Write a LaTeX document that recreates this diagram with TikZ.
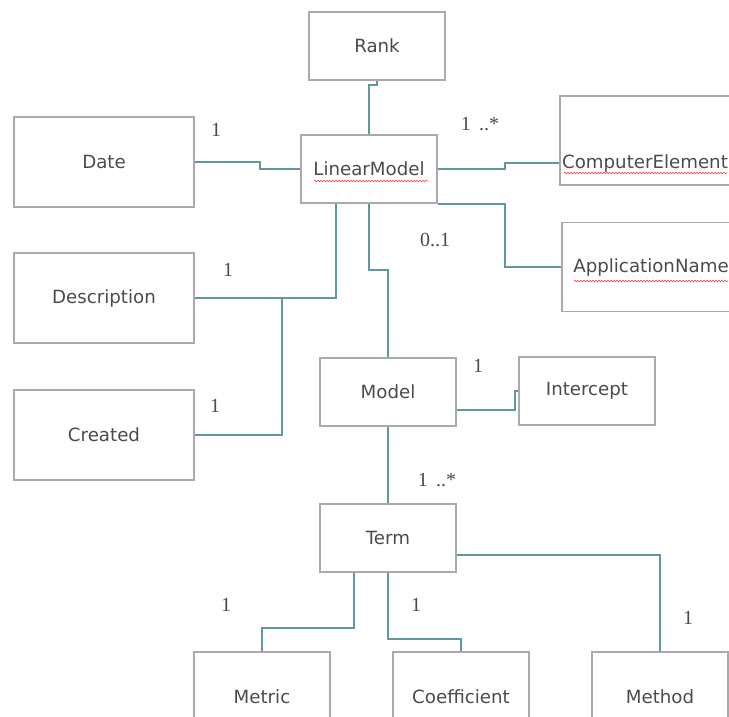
\documentclass[tikz,border=0pt]{standalone}
\usepackage{fontspec}
\setmainfont{DejaVu Sans}
\newfontfamily\multfont{Liberation Serif}
\usetikzlibrary{decorations.pathmorphing}
\definecolor{linkcol}{RGB}{95,152,160}
\definecolor{boxcol}{RGB}{170,170,170}
\definecolor{txtcol}{RGB}{75,75,75}

\begin{document}
\begin{tikzpicture}[x=1pt, y=-1pt,
    box/.style={draw=boxcol, line width=1.2pt, minimum width=136pt, minimum height=68pt,
        inner sep=0pt, text=txtcol, font=\fontsize{18.2}{21}\selectfont},
    wide/.style={box, minimum width=180pt, minimum height=90pt},
    tall/.style={box, minimum height=90pt},
    word/.style={text=txtcol, font=\fontsize{18.2}{21}\selectfont, inner sep=0pt},
    mult/.style={text=txtcol, font=\multfont\fontsize{20}{23}\selectfont, inner sep=0pt},
    link/.style={draw=linkcol, line width=2pt},
    squig/.style={draw=red!75, line width=0.6pt, decorate,
        decoration={snake, amplitude=0.8pt, segment length=3pt}}]
    \fill[white] (0,0) rectangle (729,716);
    \clip (0,0) rectangle (729,716);

    \node[box] (rank) at (377,46) {Rank};
    \node[box] (linear) at (369,169) {LinearModel};
    \node[wide] (date) at (104,162) {Date};
    \node[wide, minimum width=178pt, minimum height=89pt] (comp) at (649,140.5) {};
    \node[word] (compt) at (645,163) {ComputerElement};
    \node[wide, minimum width=178pt, minimum height=89pt] (app) at (651,267) {ApplicationName};
    \node[wide] (desc) at (104,298) {Description};
    \node[wide] (created) at (104,435) {Created};
    \node[box] (model) at (388,392) {Model};
    \node[box] (icpt) at (587,391) {Intercept};
    \node[box] (term) at (388,538) {Term};
    \node[tall] (metric) at (262,697) {Metric};
    \node[tall] (coef) at (461,697) {Coefficient};
    \node[tall] (method) at (660,697) {Method};

    \node[mult] (m1) at (216,130) {1};
    \node[mult] (m2) at (480,124) {1\ \,..*};
    \node[mult] (m3) at (435,240) {0..1};
    \node[mult] (m4) at (228,270) {1};
    \node[mult] (m5) at (215,406) {1};
    \node[mult] (m6) at (478,366) {1};
    \node[mult] (m7) at (437,480) {1\ \,..*};
    \node[mult] (m8) at (226,605) {1};
    \node[mult] (m9) at (416,605) {1};
    \node[mult] (m10) at (688,618) {1};

    \coordinate (dj) at (282,298);

    \path[link]
    (rank.south) -- (377,85) -| (linear.north)
    (date.east) -- (260,162) |- (linear.west)
    (linear.east) -| (505,163) -- (comp.west |- compt.west)
    (linear.south east) -| (505,267) -- (app.west)
    ([xshift=-33pt]linear.south) |- (desc.east)
    (dj) |- (created.east)
    (linear.south) -- (369,270) -| (model.north)
    ([yshift=-18pt]model.east) -| (515,391) -- (icpt.west)
    (model.south) -- (term.north)
    ([xshift=-34pt]term.south) -- (354,628) -| (metric.north)
    (term.south) -- (388,639) -| (coef.north)
    ([yshift=-17pt]term.east) -| (method.north);

    \draw[squig] (314,181) -- (428,181);
    \draw[squig] (564,173) -- (727,173);
    \draw[squig] (574,281) -- (728,281);
\end{tikzpicture}
\end{document}
